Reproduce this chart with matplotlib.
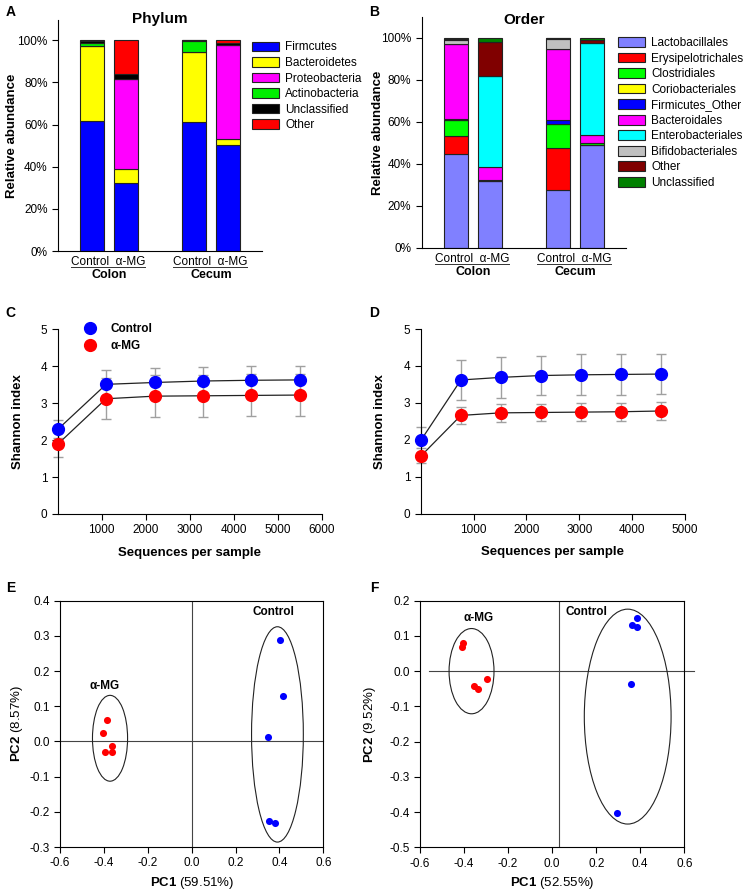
import numpy as np
import matplotlib
matplotlib.use('Agg')
import matplotlib.pyplot as plt
from matplotlib.patches import Ellipse, Patch
from matplotlib.lines import Line2D

plt.rcParams['font.family'] = ['Liberation Sans', 'DejaVu Sans']
plt.rcParams['font.size'] = 8.5
plt.rcParams['axes.unicode_minus'] = False
plt.rcParams['mathtext.fontset'] = 'custom'
plt.rcParams['mathtext.rm'] = 'Liberation Sans'
plt.rcParams['mathtext.bf'] = 'Liberation Sans:bold'

# samples: Colon Control, Colon a-MG, Cecum Control, Cecum a-MG
groups = ['Colon', 'Cecum']
treatments = ['Control', 'α-MG']

# --- phylum (%), one list per taxon across the 4 samples
phylum_names = ['Firmcutes', 'Bacteroidetes', 'Proteobacteria',
                'Actinobacteria', 'Unclassified', 'Other']
phylum_colors = ['#0000FF', '#FFFF00', '#FF00FF', '#00EE00', '#000000', '#FF0000']
firmicutes = [61.5, 32.5, 61.0, 50.2]
bacteroidetes = [36.0, 6.3, 33.5, 3.1]
proteobacteria = [0.0, 42.9, 0.0, 44.5]
actinobacteria = [1.2, 0.0, 5.1, 0.0]
phy_unclassified = [1.0, 2.3, 0.4, 1.0]
phy_other = [0.3, 16.0, 0.0, 1.2]

# --- order (%)
order_names = ['Lactobacillales', 'Erysipelotrichales', 'Clostridiales',
               'Coriobacteriales', 'Firmicutes_Other', 'Bacteroidales',
               'Enterobacteriales', 'Bifidobacteriales', 'Other', 'Unclassified']
order_colors = ['#8080FF', '#FF0000', '#00FF00', '#FFFF00', '#0000FF',
                '#FF00FF', '#00FFFF', '#C0C0C0', '#800000', '#008000']
lactobacillales = [44.5, 31.7, 27.6, 48.9]
erysipelotrichales = [8.6, 0.3, 19.9, 0.0]
clostridiales = [7.6, 0.5, 11.5, 1.0]
coriobacteriales = [0.0, 0.0, 0.0, 0.0]
firmicutes_other = [0.5, 0.0, 1.9, 0.0]
bacteroidales = [35.9, 6.2, 33.6, 3.6]
enterobacteriales = [0.0, 43.1, 0.0, 44.1]
bifidobacteriales = [1.5, 0.0, 5.0, 0.0]
ord_other = [0.7, 16.1, 0.3, 1.3]
ord_unclassified = [0.7, 2.1, 0.2, 1.1]

# --- Shannon rarefaction, panel C
c_seqs = [10, 1100, 2200, 3300, 4400, 5500]
c_ctrl = [2.30, 3.51, 3.56, 3.60, 3.62, 3.63]
c_ctrl_sd = [0.25, 0.38, 0.38, 0.38, 0.39, 0.38]
c_mg = [1.90, 3.12, 3.19, 3.20, 3.21, 3.22]
c_mg_sd = [0.35, 0.55, 0.56, 0.57, 0.57, 0.56]

# --- panel D
d_seqs = [10, 760, 1510, 2270, 3030, 3780, 4540]
d_ctrl = [2.00, 3.62, 3.69, 3.74, 3.76, 3.77, 3.78]
d_ctrl_sd = [0.35, 0.53, 0.55, 0.54, 0.55, 0.56, 0.55]
d_mg = [1.57, 2.66, 2.73, 2.74, 2.75, 2.76, 2.78]
d_mg_sd = [0.20, 0.24, 0.25, 0.24, 0.24, 0.25, 0.24]

# --- PCoA, panel E
e_mg_pc1 = [-0.386, -0.406, -0.395, -0.362, -0.363]
e_mg_pc2 = [0.061, 0.024, -0.029, -0.029, -0.012]
e_ctrl_pc1 = [0.403, 0.418, 0.347, 0.353, 0.381]
e_ctrl_pc2 = [0.289, 0.128, 0.013, -0.226, -0.231]
e_mg_ellipse = [-0.372, 0.009, 0.16, 0.244]    # cx, cy, width, height
e_ctrl_ellipse = [0.391, 0.02, 0.236, 0.612]
e_yticks = [-0.3, -0.2, -0.1, 0.0, 0.1, 0.2, 0.3, 0.4]

# --- PCoA, panel F
f_mg_pc1 = [-0.403, -0.408, -0.355, -0.335, -0.294]
f_mg_pc2 = [0.079, 0.068, -0.043, -0.050, -0.023]
f_ctrl_pc1 = [0.385, 0.364, 0.385, 0.359, 0.296]
f_ctrl_pc2 = [0.150, 0.130, 0.125, -0.036, -0.404]
f_mg_ellipse = [-0.366, 0.0, 0.204, 0.242]
f_ctrl_ellipse = [0.343, -0.129, 0.394, 0.61]
f_yticks = [-0.5, -0.4, -0.3, -0.2, -0.1, 0.0, 0.1, 0.2]

pc_xticks = [-0.6, -0.4, -0.2, 0.0, 0.2, 0.4, 0.6]

BLUE = '#0000FF'
RED = '#FF0000'
W, H = 751, 894


def px_axes(fig, left, top, right, bottom):
    return fig.add_axes([left / W, 1 - bottom / H, (right - left) / W, (bottom - top) / H])


def set_label_centers(ax, xc=None, yc=None):
    if yc is not None:
        ax.yaxis.set_label_coords(yc, 0.5)
        ax.yaxis.label.set_va('center')
    if xc is not None:
        ax.xaxis.set_label_coords(0.5, xc)
        ax.xaxis.label.set_va('center')


def stacked(ax, series, colors, title, title_y):
    pos = np.array([0, 1, 3, 4])
    bottom = np.zeros(4)
    for vals, col in zip(series, colors):
        vals = np.array(vals)
        ax.bar(pos, vals, 0.7, bottom=bottom, color=col, edgecolor='#222222',
               linewidth=0.8)
        bottom += vals
    ax.set_xlim(-1, 5)
    ax.set_ylim(0, 109.6)
    ax.set_yticks(range(0, 101, 20))
    ax.set_yticklabels([f'{t}%' for t in range(0, 101, 20)])
    ax.set_xticks([])
    for s in ['top', 'right']:
        ax.spines[s].set_visible(False)
    ax.tick_params(axis='y', direction='out', length=4)
    ax.set_ylabel('Relative abundance', fontweight='bold', fontsize=9.5)
    ax.text(0.5, title_y, title, transform=ax.transAxes, ha='center',
            va='baseline', fontweight='bold', fontsize=11)
    tr = ax.get_xaxis_transform()
    for i, g in enumerate(groups):
        p = pos[2 * i]
        ax.text(p + 0.47, -0.062, '  '.join(treatments), transform=tr,
                ha='center', va='baseline', fontsize=8.5)
        ax.plot([p - 0.62, p + 1.56], [-0.069, -0.069], color='#333333',
                lw=0.7, transform=tr, clip_on=False)
        ax.text(p + 0.5, -0.118, g, transform=tr, ha='center', va='baseline',
                fontweight='bold', fontsize=9)


def bar_legend(fig, names, colors, x, y):
    handles = [Patch(facecolor=c, edgecolor='#222222', linewidth=0.8, label=n)
               for n, c in zip(names, colors)]
    fig.legend(handles=handles, loc='upper left', bbox_to_anchor=(x / W, 1 - y / H),
               frameon=False, borderpad=0, borderaxespad=0, handlelength=2.26,
               handleheight=0.9, handletextpad=0.55, labelspacing=0.3,
               fontsize=8.5)


def shannon(ax, x, ctrl, ctrl_sd, mg, mg_sd, xmax, xticks):
    for y, sd, col in [(ctrl, ctrl_sd, BLUE), (mg, mg_sd, RED)]:
        ax.errorbar(x, y, yerr=sd, fmt='none', ecolor='#A0A0A0', elinewidth=1,
                    capsize=3.5, capthick=1, zorder=1, clip_on=False)
        ax.plot(x, y, '-', color='#222222', lw=0.9, zorder=2, clip_on=False)
        ax.plot(x, y, 'o', color=col, ms=8.5, zorder=3, clip_on=False)
    ax.set_xlim(0, xmax)
    ax.set_ylim(0, 5)
    ax.set_xticks(xticks)
    ax.set_yticks(range(6))
    for s in ['top', 'right']:
        ax.spines[s].set_visible(False)
    ax.tick_params(direction='out', length=4)
    ax.set_xlabel('Sequences per sample', fontweight='bold', fontsize=9.5)
    ax.set_ylabel('Shannon index', fontweight='bold', fontsize=9.5)


def pcoa(ax, mg, ctrl, mg_ell, ctrl_ell, ylim, yticks, vline_x, hline_span,
         pc1, pc2, mg_lab, ctrl_lab):
    ax.axhline(0, xmin=hline_span[0], xmax=hline_span[1], color='#444444',
               lw=0.8, clip_on=False, zorder=1)
    ax.axvline(vline_x, color='#444444', lw=0.8, zorder=1)
    for e in [mg_ell, ctrl_ell]:
        ax.add_patch(Ellipse((e[0], e[1]), e[2], e[3], fill=False,
                             edgecolor='#222222', lw=0.8))
    ax.scatter(mg[0], mg[1], s=26, color=RED, zorder=3, linewidths=0)
    ax.scatter(ctrl[0], ctrl[1], s=26, color=BLUE, zorder=3, linewidths=0)
    ax.text(mg_lab[0], mg_lab[1], 'α-MG', ha='center', va='center',
            fontweight='bold', fontsize=8.5)
    ax.text(ctrl_lab[0], ctrl_lab[1], 'Control', ha='center', va='center',
            fontweight='bold', fontsize=8.5)
    ax.set_xlim(-0.6, 0.6)
    ax.set_ylim(*ylim)
    ax.set_xticks(pc_xticks)
    ax.set_yticks(yticks)
    ax.set_xticklabels([f'{t:.1f}' for t in pc_xticks])
    ax.set_yticklabels([f'{t:.1f}' for t in yticks])
    ax.tick_params(direction='out', length=4)
    ax.set_xlabel(r'$\mathbf{PC1}$ (' + pc1 + ')', fontsize=9.5)
    ax.set_ylabel(r'$\mathbf{PC2}$ (' + pc2 + ')', fontsize=9.5)


def main():
    fig = plt.figure(figsize=(W / 100, H / 100), dpi=100)

    ax_a = px_axes(fig, 58, 20, 262, 251)
    stacked(ax_a, [firmicutes, bacteroidetes, proteobacteria, actinobacteria,
                   phy_unclassified, phy_other], phylum_colors, 'Phylum', 0.988)
    set_label_centers(ax_a, yc=-0.227)
    bar_legend(fig, phylum_names, phylum_colors, 252, 41.5)

    ax_b = px_axes(fig, 421.7, 17.3, 626, 248)
    stacked(ax_b, [lactobacillales, erysipelotrichales, clostridiales,
                   coriobacteriales, firmicutes_other, bacteroidales,
                   enterobacteriales, bifidobacteriales, ord_other,
                   ord_unclassified], order_colors, 'Order', 0.971)
    set_label_centers(ax_b, yc=-0.214)
    bar_legend(fig, order_names, order_colors, 618, 37)

    ax_c = px_axes(fig, 57.7, 329.3, 321.7, 514)
    shannon(ax_c, c_seqs, c_ctrl, c_ctrl_sd, c_mg, c_mg_sd, 6000,
            range(1000, 6001, 1000))
    set_label_centers(ax_c, xc=-0.211, yc=-0.149)
    handles = [Line2D([], [], marker='o', ls='', color=BLUE, ms=8.5, label='Control'),
               Line2D([], [], marker='o', ls='', color=RED, ms=8.5, label='α-MG')]
    ax_c.legend(handles=handles, loc='upper left', bbox_to_anchor=(0.1, 1.035),
                frameon=False, borderpad=0, borderaxespad=0, handlelength=1.0,
                handletextpad=1.2, labelspacing=0.45,
                prop={'weight': 'bold', 'size': 8.5})

    ax_d = px_axes(fig, 420.7, 329, 685, 513.7)
    shannon(ax_d, d_seqs, d_ctrl, d_ctrl_sd, d_mg, d_mg_sd, 5000,
            range(1000, 5001, 1000))
    set_label_centers(ax_d, xc=-0.208, yc=-0.154)

    ax_e = px_axes(fig, 60, 600.7, 323.3, 847)
    pcoa(ax_e, (e_mg_pc1, e_mg_pc2), (e_ctrl_pc1, e_ctrl_pc2), e_mg_ellipse,
         e_ctrl_ellipse, (-0.3, 0.4), e_yticks,
         0.0, (0, 1), '59.51%', '8.57%', (-0.398, 0.158), (0.375, 0.367))
    set_label_centers(ax_e, xc=-0.145, yc=-0.164)

    ax_f = px_axes(fig, 420, 600.7, 684.3, 847.3)
    pcoa(ax_f, (f_mg_pc1, f_mg_pc2), (f_ctrl_pc1, f_ctrl_pc2), f_mg_ellipse,
         f_ctrl_ellipse, (-0.5, 0.2), f_yticks,
         0.033, (0.033, 1.035), '52.55%', '9.52%', (-0.332, 0.151), (0.155, 0.167))
    set_label_centers(ax_f, xc=-0.1435, yc=-0.189)

    for letter, x, y in [('A', 11, 12.5), ('B', 374, 12.5), ('C', 10, 313),
                         ('D', 374, 313), ('E', 11, 588), ('F', 374, 588)]:
        fig.text(x / W, 1 - y / H, letter, ha='center', va='center',
                 fontweight='bold', fontsize=10)

    fig.savefig('out.png', dpi=100)


if __name__ == '__main__':
    main()
